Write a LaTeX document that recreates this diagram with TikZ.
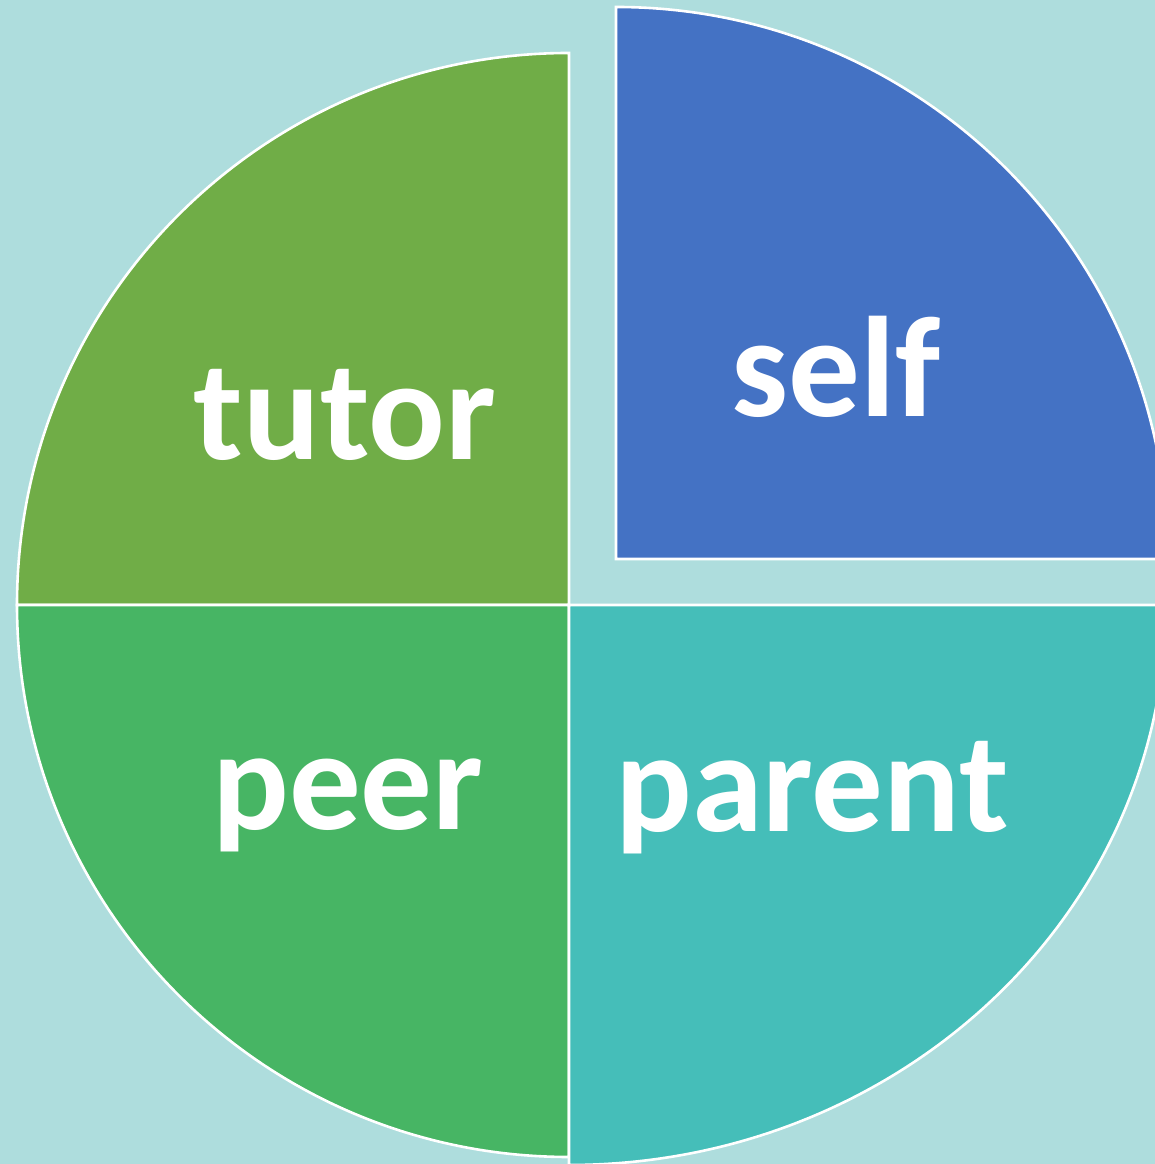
\documentclass[tikz,border=0pt]{standalone}
\usepackage{fontspec}
\setmainfont{Carlito}
\definecolor{bgc}{RGB}{174,221,221}
\definecolor{tutorc}{RGB}{112,173,71}
\definecolor{peerc}{RGB}{71,181,100}
\definecolor{parentc}{RGB}{69,190,185}
\definecolor{selfc}{RGB}{68,114,196}
\begin{document}
\begin{tikzpicture}[x=1pt,y=1pt,
  slice/.style={draw=white,line width=2.6pt,line join=miter},
  lbl/.style={text=white,font=\fontsize{143}{143}\selectfont\bfseries,anchor=base,inner sep=0pt}]
\useasboundingbox (0,0) rectangle (1155,1164);
\clip (0,0) rectangle (1155,1164);
\fill[bgc] (0,0) rectangle (1155,1164);
\coordinate (C) at (569,559);
\coordinate (S) at (616,605);
\fill[tutorc] (C) -- ++(-552,0) arc[start angle=180,end angle=90,radius=552] -- cycle;
\draw[slice] (C) -- ++(-552,0) arc[start angle=180,end angle=90,radius=552] -- cycle;
\fill[peerc] (C) -- ++(-552,0) arc[start angle=180,end angle=270,radius=552] -- cycle;
\draw[slice] (C) -- ++(-552,0) arc[start angle=180,end angle=270,radius=552] -- cycle;
\fill[parentc] (C) -- ++(0,-560) arc[start angle=270,end angle=360,x radius=597,y radius=560] -- cycle;
\draw[slice] (C) -- ++(0,-560) arc[start angle=270,end angle=360,x radius=597,y radius=560] -- cycle;
\fill[selfc] (S) -- ++(552,0) arc[start angle=0,end angle=90,radius=552] -- cycle;
\draw[slice] (S) -- ++(552,0) arc[start angle=0,end angle=90,radius=552] -- cycle;
\node[lbl] (tutor) at (345,704) {tutor};
\node[lbl] (peer) at (348,334) {peer};
\node[lbl] (parent) at (812,332) {parent};
\node[lbl] (self) at (836,747) {self};
\end{tikzpicture}
\end{document}
